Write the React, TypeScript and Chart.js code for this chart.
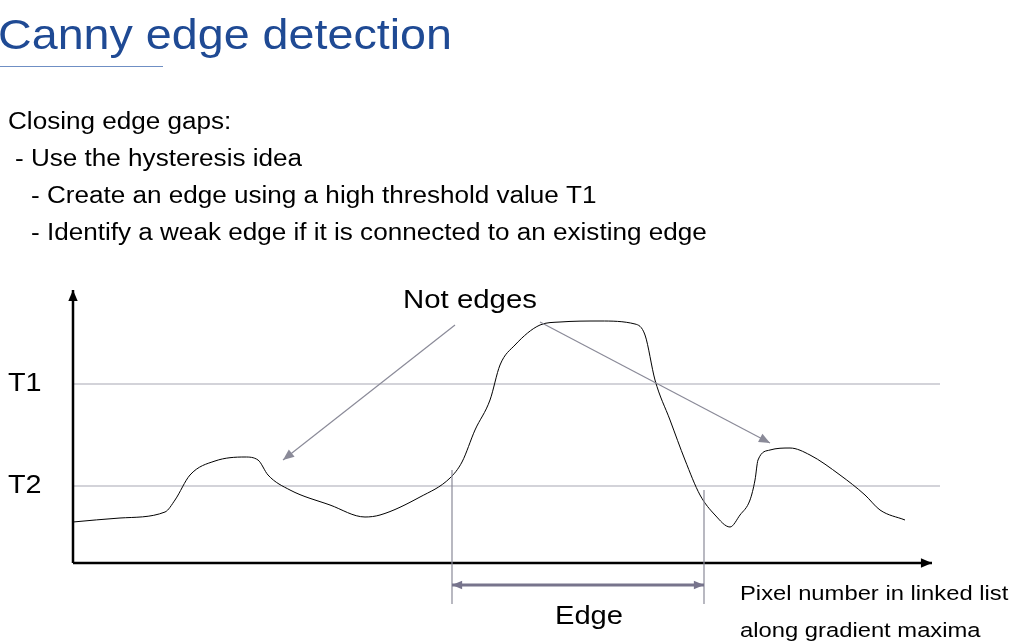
import { useEffect, useRef } from "react";
import Chart from "chart.js/auto";

// curve samples: x = pixel along list, y = gradient magnitude
const curveX = [0, 47, 92, 102, 117, 142, 172, 185, 195, 217, 257, 292, 307, 347, 377, 389, 402, 417, 427, 442, 467, 487, 527, 562, 572, 582, 597, 612, 627, 642, 657, 667, 677, 682, 685, 697, 717, 737, 767, 792, 807, 832];
const curveY = [41, 45, 51, 63, 88, 102, 106, 103, 88, 73, 58, 46, 48, 66, 85, 101, 133, 163, 198, 218, 238, 241, 242, 239, 228, 183, 143, 103, 68, 48, 36, 48, 63, 83, 103, 113, 115, 108, 88, 68, 53, 43];
const thresholds = [
  { label: "T1", value: 179 },
  { label: "T2", value: 77 },
];
const bullets = [
  "Closing edge gaps:",
  "- Use the hysteresis idea",
  "- Create an edge using a high threshold value T1",
  "- Identify a weak edge if it is connected to an existing edge",
];
const bulletX = [8, 15, 31, 31];
const edgeRange = [379, 631];

const F = "'Liberation Sans', Arial, sans-serif";

const App = () => {
  const ref = useRef<HTMLCanvasElement>(null);
  useEffect(() => {
    if (!ref.current) return;
    const arrow = (ctx: CanvasRenderingContext2D, x1: number, y1: number, x2: number, y2: number, s: number) => {
      const a = Math.atan2(y2 - y1, x2 - x1);
      ctx.beginPath();
      ctx.moveTo(x1, y1);
      ctx.lineTo(x2, y2);
      ctx.stroke();
      ctx.beginPath();
      ctx.moveTo(x2, y2);
      ctx.lineTo(x2 - s * Math.cos(a - 0.4), y2 - s * Math.sin(a - 0.4));
      ctx.lineTo(x2 - s * Math.cos(a + 0.4), y2 - s * Math.sin(a + 0.4));
      ctx.closePath();
      ctx.fill();
    };
    // stretched text, anchored at left or centre
    const text = (ctx: CanvasRenderingContext2D, s: string, x: number, y: number, size: number, sx: number, center = false) => {
      ctx.save();
      ctx.font = `${size}px ${F}`;
      ctx.translate(x, y);
      ctx.scale(sx, 1);
      ctx.textAlign = center ? "center" : "left";
      ctx.fillText(s, 0, 0);
      ctx.restore();
    };
    const deco = {
      id: "deco",
      afterDraw(chart: any) {
        const ctx = chart.ctx as CanvasRenderingContext2D;
        const xs = chart.scales.x, ys = chart.scales.y;
        ctx.save();
        ctx.textBaseline = "alphabetic";
        ctx.fillStyle = "#1f4a94";
        text(ctx, "Canny edge detection", -2, 49, 43, 1.085);
        ctx.strokeStyle = "#6f8fc4";
        ctx.lineWidth = 1;
        ctx.beginPath(); ctx.moveTo(0, 66.5); ctx.lineTo(163, 66.5); ctx.stroke();
        ctx.fillStyle = "#000";
        bullets.forEach((b, i) => text(ctx, b, bulletX[i], 129 + i * 37, 23.5, 1.11));
        // axes
        ctx.strokeStyle = "#000"; ctx.fillStyle = "#000"; ctx.lineWidth = 2.5;
        const ox = xs.getPixelForValue(0), oy = ys.getPixelForValue(0);
        arrow(ctx, ox, oy, ox, 290, 12);
        arrow(ctx, ox, oy, 932, oy, 12);
        ctx.textBaseline = "middle";
        thresholds.forEach((t) => text(ctx, t.label, 8, ys.getPixelForValue(t.value), 25, 1.15));
        text(ctx, "Not edges", 470, 301, 26, 1.13, true);
        ctx.strokeStyle = "#8a8a98"; ctx.fillStyle = "#8a8a98"; ctx.lineWidth = 1.2;
        arrow(ctx, 455, 325, 283, 460, 12);
        arrow(ctx, 540, 322, 770, 443, 12);
        // edge markers
        const [ea, eb] = edgeRange.map((v) => xs.getPixelForValue(v));
        ctx.beginPath();
        ctx.moveTo(ea, 470); ctx.lineTo(ea, 604);
        ctx.moveTo(eb, 490); ctx.lineTo(eb, 604);
        ctx.stroke();
        ctx.strokeStyle = "#77748c"; ctx.fillStyle = "#77748c"; ctx.lineWidth = 3;
        arrow(ctx, (ea + eb) / 2, 585, eb, 585, 11);
        arrow(ctx, (ea + eb) / 2, 585, ea, 585, 11);
        ctx.fillStyle = "#000";
        text(ctx, "Edge", 589, 617, 26, 1.12, true);
        text(ctx, "Pixel number in linked list", 740, 594, 20.5, 1.16);
        text(ctx, "along gradient maxima", 740, 631, 20.5, 1.16);
        ctx.restore();
      },
    };
    const chart = new Chart(ref.current, {
      type: "line",
      data: {
        datasets: [
          {
            data: curveX.map((x, i) => ({ x, y: curveY[i] })),
            borderColor: "#000",
            borderWidth: 1,
            pointRadius: 0,
            cubicInterpolationMode: "monotone",
          },
          ...thresholds.map((t) => ({
            data: [{ x: 0, y: t.value }, { x: 867, y: t.value }],
            borderColor: "#a8a8b4",
            borderWidth: 1.2,
            pointRadius: 0,
          })),
        ],
      },
      options: {
        animation: false,
        responsive: false,
        clip: false as any,
        layout: { padding: { left: 73, right: 96, top: 290, bottom: 81 } },
        plugins: { legend: { display: false }, tooltip: { enabled: false } },
        scales: {
          x: { type: "linear", min: 0, max: 857, display: false },
          y: { min: 0, max: 273, display: false },
        },
      },
      plugins: [deco],
    });
    return () => chart.destroy();
  }, []);
  return (
    <div style={{ position: "absolute", left: 0, top: 0, background: "#fff" }}>
      <canvas ref={ref} width={1026} height={644} />
    </div>
  );
};

export default App;
